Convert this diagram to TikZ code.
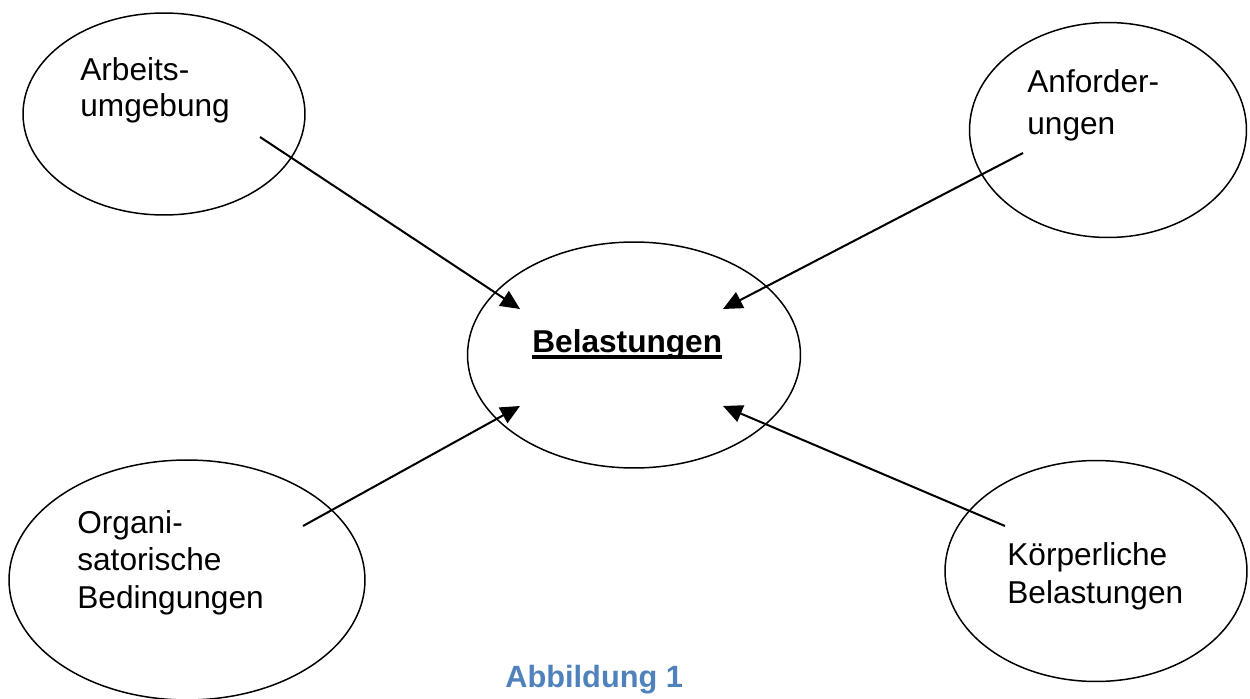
\documentclass[tikz,border=0pt]{standalone}
\usepackage{fontspec}
\setmainfont{Liberation Sans}
\usetikzlibrary{shapes.geometric,arrows.meta}
\definecolor{captionblue}{RGB}{79,129,189}
\begin{document}
\begin{tikzpicture}[x=0.02cm,y=-0.02cm,
  bubble/.style={draw,ellipse,line width=0.85pt,inner sep=0pt},
  label/.style={inner sep=0pt,anchor=base west,align=left,
    font={\fontsize{18pt}{#1}\selectfont}},
  label/.default=21pt,
  arr/.style={line width=1.15pt,-{Triangle[length=11pt,width=10pt]}}]
\useasboundingbox (0,0) rectangle (1250,699);

% outer factors and the central node
\node[bubble,minimum width=5.64cm,minimum height=4.04cm] (arb) at (164,114) {};
\node[bubble,minimum width=5.54cm,minimum height=4.30cm] (anf) at (1108,130) {};
\node[bubble,minimum width=6.66cm,minimum height=4.52cm] (bel) at (634,355) {};
\node[bubble,minimum width=7.12cm,minimum height=4.80cm] (org) at (187,580) {};
\node[bubble,minimum width=6.04cm,minimum height=4.42cm] (kor) at (1096,571) {};

% texts (base anchor sits on the last line)
\node[label=21pt] (arb-t) at (80,117) {Arbeits-\\umgebung};
\node[label=24.4pt] (anf-t) at (1027,135) {Anforder-\\ungen};
\node[label=21.3pt] (org-t) at (77,608) {Organi-\\satorische\\Bedingungen};
\node[label=21.5pt] (kor-t) at (1007,603) {Körperliche\\Belastungen};
\node[inner sep=0pt,anchor=base west,font={\fontsize{18pt}{21pt}\selectfont\bfseries}]
  (bel-t) at (532,352) {Belastungen};
\draw[line width=1.9pt] ([yshift=-0.1cm]bel-t.base west) -- ([yshift=-0.1cm]bel-t.base east);

% arrow ends
\coordinate (arb-out) at (260,137);
\coordinate (anf-out) at (1023,153);
\coordinate (org-out) at (303,526);
\coordinate (kor-out) at (1005,526);
\coordinate (bel-nw) at (520,309);
\coordinate (bel-ne) at (723,309);
\coordinate (bel-sw) at (520,406);
\coordinate (bel-se) at (723,406);

\draw[arr] (arb-out) -- (bel-nw);
\draw[arr] (anf-out) -- (bel-ne);
\draw[arr] (org-out) -- (bel-sw);
\draw[arr] (kor-out) -- (bel-se);

% caption
\node[inner sep=0pt,anchor=base west,text=captionblue,
  font={\fontsize{17.5pt}{21pt}\selectfont\bfseries}] (cap) at (505,687) {Abbildung 1};
\end{tikzpicture}
\end{document}
